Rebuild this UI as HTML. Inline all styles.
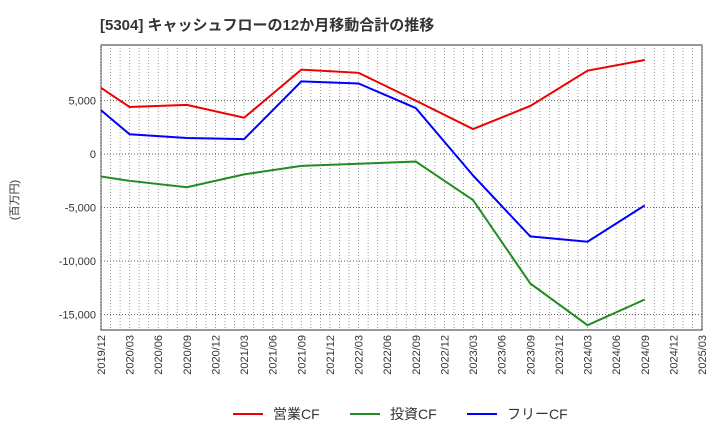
<!DOCTYPE html>
<html><head><meta charset="utf-8"><style>
body{margin:0;background:#fff;font-family:"Liberation Sans","Noto Sans CJK JP",sans-serif;}
</style></head><body>
<svg width="720" height="440" xmlns="http://www.w3.org/2000/svg" font-family="Liberation Sans, Noto Sans CJK JP, sans-serif">
<text x="100" y="30" font-size="15" font-weight="bold" fill="#333">[5304]  キャッシュフローの12か月移動合計の推移</text>
<text transform="translate(18,200) rotate(-90)" font-size="11" fill="#333" text-anchor="middle">(百万円)</text>
<g id="plot"></g>
<g>
<line x1="233" y1="414" x2="263" y2="414" stroke="#e00" stroke-width="2"/><text x="273" y="419" font-size="14" fill="#333">営業CF</text>
<line x1="350" y1="414" x2="380" y2="414" stroke="#228b22" stroke-width="2"/><text x="390" y="419" font-size="14" fill="#333">投資CF</text>
<line x1="467" y1="414" x2="497" y2="414" stroke="#00f" stroke-width="2"/><text x="507" y="419" font-size="14" fill="#333">フリーCF</text>
</g>
</svg>
<script>
const tickLabels=["2019/12","2020/03","2020/06","2020/09","2020/12","2021/03","2021/06","2021/09","2021/12","2022/03","2022/06","2022/09","2022/12","2023/03","2023/06","2023/09","2023/12","2024/03","2024/06","2024/09","2024/12","2025/03"];
const pointIdx=[0,1,3,5,7,9,11,13,15,17,19];
const operatingCF=[6200,4400,4600,3400,7900,7600,5000,2340,4500,7800,8800];
const investingCF=[-2100,-2500,-3100,-1900,-1100,-900,-700,-4300,-12100,-16000,-13600];
const freeCF=[4100,1850,1500,1400,6800,6600,4300,-2000,-7700,-8200,-4800];
const yTicks=[5000,0,-5000,-10000,-15000];
const yTickLabels=["5,000","0","-5,000","-10,000","-15,000"];
const L=101,R=702,T=45,B=330,ymin=-16450,ymax=10200;
const xs=i=>L+(R-L)*i/(tickLabels.length-1);
const ys=v=>T+(B-T)*(ymax-v)/(ymax-ymin);
const NS="http://www.w3.org/2000/svg",g=document.getElementById('plot');
function mk(t,a){const e=document.createElementNS(NS,t);for(const k in a)e.setAttribute(k,a[k]);g.appendChild(e);return e;}
const bg=mk('rect',{x:L,y:T,width:R-L,height:B-T,fill:'#fff',stroke:'#333'});


for(let m=0;m<=63;m++){const x=L+(R-L)*m/63;const l=mk('line',{x1:x,x2:x,y1:T,y2:B,stroke:'#888','stroke-dasharray':'1,2','stroke-width':0.8});

}
yTicks.forEach((v,i)=>{const y=ys(v);const l=mk('line',{x1:L,x2:R,y1:y,y2:y,stroke:'#666','stroke-dasharray':'1,2'});


const t=mk('text',{x:L-5,y:y+4,'font-size':11,'text-anchor':'end',fill:'#333'});t.textContent=yTickLabels[i];

});
tickLabels.forEach((s,i)=>{const x=xs(i);const t=mk('text',{transform:`translate(${x+4},${B+5}) rotate(-90)`,'font-size':11,'text-anchor':'end',fill:'#333'});t.textContent=s;

});
[[operatingCF,'#e00','operating-cf-line'],[investingCF,'#228b22','investing-cf-line'],[freeCF,'#00f','free-cf-line']].forEach(([d,c,n])=>{
const p=mk('polyline',{points:d.map((v,i)=>xs(pointIdx[i])+','+ys(v)).join(' '),fill:'none',stroke:c,'stroke-width':2});

});
</script>
</body></html>
